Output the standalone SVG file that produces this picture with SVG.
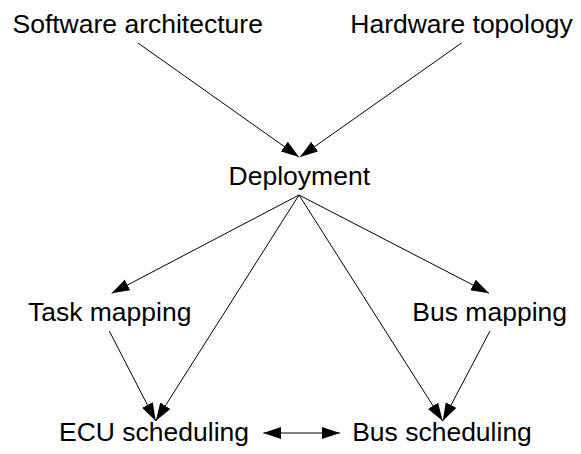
<svg xmlns="http://www.w3.org/2000/svg" width="581" height="454" viewBox="0 0 581 454">
<style>
text { font-family: "Liberation Sans", Arial, sans-serif; font-size: 26.5px; fill: #000; text-anchor: middle; }
.edge { stroke: #000; stroke-width: 1; fill: none; marker-end: url(#arrow); }
.both { marker-start: url(#arrow); }
</style>
<defs>
<marker id="arrow" markerUnits="userSpaceOnUse" markerWidth="19" markerHeight="13" refX="18" refY="6" orient="auto-start-reverse" viewBox="0 0 19 13">
<path d="M0,0 L18,6 L0,12 z" fill="#000"/>
</marker>
</defs>
<g id="connectors">
<line class="edge" x1="138" y1="43" x2="299" y2="157"/>
<line class="edge" x1="461.5" y1="43" x2="300" y2="157"/>
<line class="edge" x1="299" y1="195" x2="111.7" y2="293.3"/>
<line class="edge" x1="299" y1="195" x2="489" y2="293.3"/>
<line class="edge" x1="299" y1="195" x2="155.7" y2="421"/>
<line class="edge" x1="299" y1="195" x2="442.7" y2="421"/>
<line class="edge" x1="109.3" y1="331" x2="155.7" y2="421"/>
<line class="edge" x1="490" y1="331" x2="442.7" y2="421"/>
<line class="edge both" x1="263.3" y1="433" x2="340" y2="433"/>
</g>
<g id="software"><text x="137.7" y="33.3">Software architecture</text></g>
<g id="hardware"><text x="461.5" y="33.3">Hardware topology</text></g>
<g id="deployment"><text x="299.3" y="185">Deployment</text></g>
<g id="taskmapping"><text x="109.7" y="320.7">Task mapping</text></g>
<g id="busmapping"><text x="489.7" y="320.7">Bus mapping</text></g>
<g id="ecuscheduling"><text x="154" y="440.7">ECU scheduling</text></g>
<g id="busscheduling"><text x="442" y="440.7">Bus scheduling</text></g>
</svg>
